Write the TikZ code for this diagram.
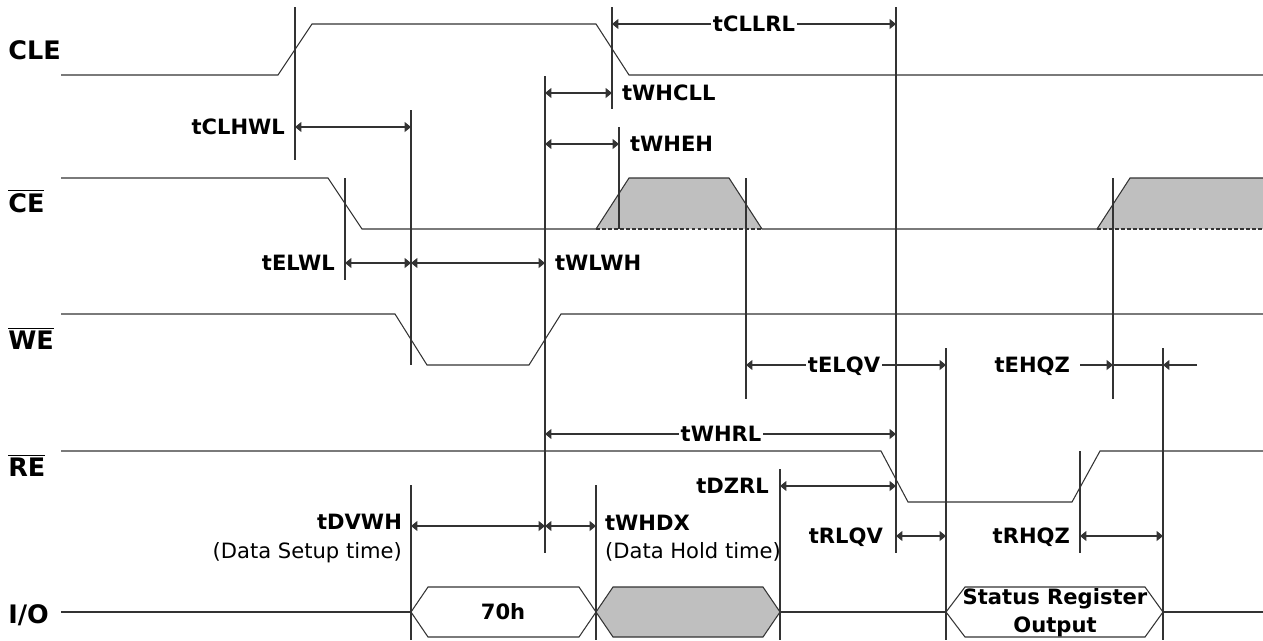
\documentclass[tikz,border=0pt]{standalone}
\usepackage{fontspec}
\setmainfont{DejaVu Sans}
\usetikzlibrary{arrows.meta}

\newcommand{\ovl}[1]{$\overline{\mbox{#1}}$}

\tikzset{
  wave/.style={line width=0.6pt, draw=black!80},
  guide/.style={line width=0.6pt, draw=black!80},
  dim/.style={line width=0.6pt, draw=black!80,
    {Triangle[length=3.6pt,width=5.6pt]}-{Triangle[length=3.6pt,width=5.6pt]}},
  half/.style={line width=0.6pt, draw=black!80, -{Triangle[length=3.6pt,width=5.6pt]}},
  sname/.style={font=\bfseries\fontsize{14.5}{17}\selectfont, inner sep=0pt, anchor=base west},
  tname/.style={font=\bfseries\fontsize{12}{14}\selectfont, inner sep=1pt,
    text height=8.7pt, text depth=0pt},
  note/.style={font=\fontsize{12}{14}\selectfont, inner sep=1pt},
  busgray/.style={fill=gray!50}
}

\begin{document}
\begin{tikzpicture}[x=0.02cm, y=-0.02cm]
    \useasboundingbox (0,0) rectangle (1263,640);
    \fill[busgray] (596,229) -- (629,178) -- (729,178) -- (762,229) -- cycle;
    \fill[busgray] (1097,229) -- (1130,178) -- (1263,178) -- (1263,229) -- cycle;
    \filldraw[wave, busgray] (596,612) -- (613,587) -- (763,587) -- (780,612)
        -- (763,637) -- (613,637) -- cycle;
    \draw[wave] (411,612) -- (428,587) -- (579,587) -- (596,612) -- (579,637)
        -- (428,637) -- cycle;
    \draw[wave] (946,612) -- (965,587) -- (1145,587) -- (1163,612) -- (1145,637)
        -- (965,637) -- cycle;

    \draw[wave] (61,75) -- (278,75) -- (312,24) -- (596,24) -- (629,75) -- (1263,75);
    \draw[wave] (61,178) -- (328,178) -- (362,229) -- (596,229) -- (629,178)
        -- (729,178) -- (762,229) -- (1097,229) -- (1130,178) -- (1263,178);
    \draw[wave, dash pattern=on 2.2pt off 1.2pt] (596,229) -- (762,229);
    \draw[wave, dash pattern=on 2.2pt off 1.2pt] (1097,229) -- (1263,229);
    \draw[wave] (61,314) -- (395,314) -- (427,365) -- (529,365) -- (561,314) -- (1263,314);
    \draw[wave] (61,451) -- (881,451) -- (908,502) -- (1072,502) -- (1100,451) -- (1263,451);
    \draw[wave] (61,612) -- (411,612);
    \draw[wave] (780,612) -- (946,612);
    \draw[wave] (1163,612) -- (1263,612);

    \foreach \x/\a/\b in {295/7/160, 612/7/109, 896/7/553, 411/110/365,
        345/178/280, 545/76/553, 619/127/229, 746/178/399, 1113/178/399,
        946/348/640, 1163/348/640, 780/469/640, 1080/451/553,
        411/485/640, 596/485/640}
    \draw[guide] (\x,\a) -- (\x,\b);

    \foreach \a/\b/\y in {612/896/24, 545/612/93, 295/411/127, 545/619/144,
        345/411/263, 411/545/263, 746/946/365, 545/896/434, 780/896/486,
        411/545/526, 545/596/526, 896/946/536, 1080/1163/536}
    \draw[dim] (\a,\y) -- (\b,\y);
    \draw[guide] (1080,365) -- (1197,365);
    \draw[half] (1080,365) -- (1113,365);
    \draw[half] (1197,365) -- (1163,365);

    \node[sname] (cle) at (8,59) {CLE};
    \node[sname] (ce) at (8,212) {\ovl{CE}};
    \node[sname] (we) at (8,349) {\ovl{WE}};
    \node[sname] (re) at (8,476) {\ovl{RE}};
    \node[sname] (io) at (8,623) {I/O};

    \node[tname, fill=white] (cllrl) at (754,24) {tCLLRL};
    \node[tname, anchor=west] (whcll) at (620,93) {tWHCLL};
    \node[tname, anchor=east] (clhwl) at (287,127) {tCLHWL};
    \node[tname, anchor=west] (wheh) at (628,144) {tWHEH};
    \node[tname, anchor=east] (elwl) at (337,263) {tELWL};
    \node[tname, anchor=west] (wlwh) at (553,263) {tWLWH};
    \node[tname, fill=white] (elqv) at (844,365) {tELQV};
    \node[tname, anchor=east] (ehqz) at (1072,365) {tEHQZ};
    \node[tname, fill=white] (whrl) at (721,434) {tWHRL};
    \node[tname, anchor=east] (dzrl) at (771,486) {tDZRL};
    \node[tname, anchor=east] (dvwh) at (404,522) {tDVWH};
    \node[note, anchor=base east] (setup) at (404,558) {(Data Setup time)};
    \node[tname, anchor=west] (whdx) at (603,523) {tWHDX};
    \node[note, anchor=base west] (hold) at (603,558) {(Data Hold time)};
    \node[tname, anchor=east] (rlqv) at (885,536) {tRLQV};
    \node[tname, anchor=east] (rhqz) at (1072,536) {tRHQZ};
    \node[tname] (cmd) at (503,612) {70h};
    \node[tname, text height=, text depth=, align=center, inner sep=0pt,
        anchor=north, font=\bfseries\fontsize{12}{16}\selectfont] (status)
        at (1055,588) {Status Register\\Output};
\end{tikzpicture}
\end{document}
